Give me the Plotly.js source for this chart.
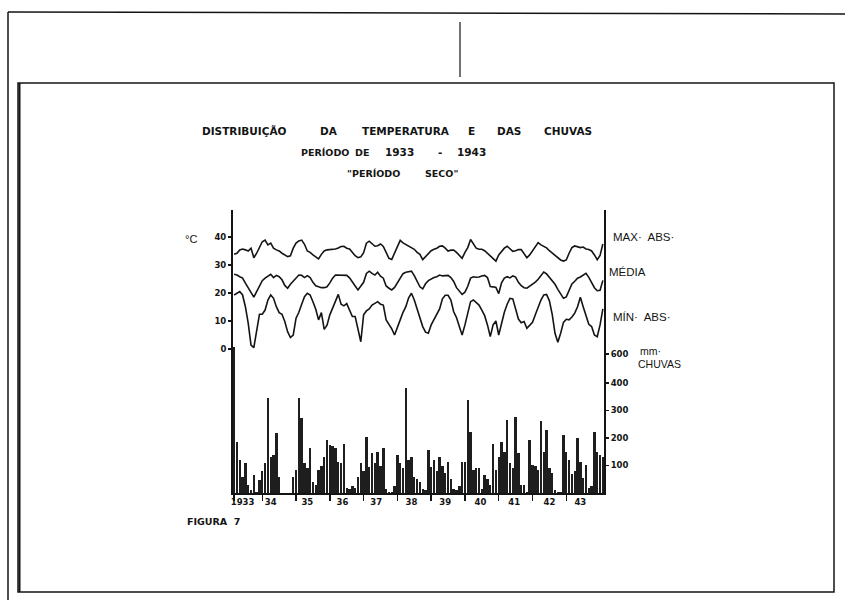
<!DOCTYPE html>
<html>
<head>
<meta charset="utf-8">
<script src="https://cdn.plot.ly/plotly-3.0.1.min.js"></script>
<style>html,body{margin:0;padding:0;background:#fff;}#chart{width:845px;height:600px;}</style>
</head>
<body>
<div id="chart"></div>
<script>
// Monthly series, January 1933 .. December 1943 (132 months)
const maxAbs = [
33.8,34.2,35.4,35.7,35.4,35.0,36.0,32.6,34.2,36.6,38.3,38.9,
37.2,37.8,36.0,35.4,35.0,34.2,33.6,33.0,33.3,36.0,37.8,38.6,
38.9,37.4,35.0,34.5,33.6,33.0,32.2,33.8,35.0,35.4,35.5,35.7,
35.7,36.1,36.6,36.7,36.0,35.7,34.4,33.3,32.6,32.9,34.4,37.8,
38.5,37.5,36.7,36.9,37.5,36.6,34.4,32.4,32.0,34.2,36.9,38.8,
37.9,37.3,36.8,36.3,35.6,34.5,33.8,31.9,32.9,34.2,35.1,35.6,
36.0,36.7,36.8,36.0,35.0,35.3,35.3,34.5,33.3,32.4,34.5,36.2,
39.1,37.5,36.0,35.6,35.6,35.1,34.2,33.3,32.4,31.4,33.6,35.0,
36.0,36.7,35.7,34.9,35.1,35.5,35.5,34.2,32.6,33.6,35.1,36.8,
38.0,37.2,36.6,36.1,35.1,34.3,33.2,32.4,31.8,31.4,31.8,34.2,
36.2,36.8,36.4,36.2,36.4,35.7,35.5,35.0,33.6,31.9,33.4,37.5
];
const media = [
26.7,26.4,25.8,25.3,23.5,21.9,19.9,18.5,20.5,22.5,24.4,25.3,
26.0,26.7,25.5,26.3,25.8,24.7,22.7,21.7,23.1,24.2,25.5,26.4,
26.3,25.5,26.2,25.5,23.8,22.6,22.2,21.9,21.9,22.2,23.6,25.3,
26.4,26.4,26.2,26.2,26.3,25.4,23.8,22.5,21.1,22.3,23.8,27.0,
27.8,27.0,26.4,27.4,26.0,25.3,22.5,21.7,21.1,22.0,23.7,25.5,
26.9,27.4,27.6,27.8,26.2,24.1,22.2,21.5,23.3,24.4,25.1,25.5,
25.8,26.4,26.1,26.2,26.3,25.5,24.1,21.9,20.5,19.5,20.3,22.4,
25.3,25.8,25.6,25.7,26.1,26.3,25.5,22.3,22.2,22.0,19.8,23.6,
25.3,25.8,25.4,26.1,25.7,23.8,22.6,21.9,21.7,22.4,23.1,23.9,
24.9,26.1,27.5,26.8,25.7,24.5,23.1,21.3,19.7,18.1,18.6,21.1,
23.2,24.2,25.3,25.7,26.4,27.0,25.6,23.6,21.9,20.8,21.0,24.5
];
const minAbs = [
19.3,19.9,20.5,19.3,15.1,9.2,1.4,0.5,6.2,12.4,12.4,13.9,
17.5,19.3,18.1,15.1,13.0,12.4,9.8,6.2,4.1,5.0,11.0,13.1,
16.0,18.7,19.9,19.3,16.9,14.2,10.4,13.0,7.0,8.5,12.2,14.5,
16.7,19.5,16.0,15.4,16.2,13.9,11.6,11.6,6.8,2.6,12.2,13.6,
14.3,15.7,16.3,16.9,16.0,15.7,10.4,8.8,7.2,5.0,7.4,10.4,
13.1,15.1,18.3,19.9,17.5,14.5,11.6,8.0,6.0,5.6,8.6,10.4,
12.6,14.3,17.9,19.2,19.2,17.5,13.3,11.2,8.0,5.0,8.6,13.1,
16.9,17.5,16.7,15.7,13.9,11.9,8.6,4.4,8.6,10.0,5.0,9.2,
13.1,16.0,18.1,17.9,13.9,10.7,9.4,9.8,7.4,8.6,9.5,12.2,
15.1,17.5,19.3,19.5,17.2,12.4,5.6,2.4,5.6,9.5,10.6,10.4,
11.4,12.8,15.1,18.5,15.1,11.6,8.8,8.0,5.0,4.4,8.6,14.3
];
const chuvas = [
530,187,120,60,108,30,10,65,5,47,80,108,
344,132,140,217,60,0,0,0,0,60,84,344,
272,110,90,162,40,30,84,100,132,193,175,170,
162,114,108,180,20,15,25,20,60,108,80,205,
96,144,110,150,100,162,15,5,5,25,140,110,
90,381,120,132,60,50,40,15,10,156,96,120,
80,132,100,72,114,50,15,10,25,114,114,338,
223,84,90,90,15,65,50,30,180,84,130,187,
150,265,110,90,278,144,30,30,5,193,102,100,
84,260,150,229,90,72,10,5,5,211,150,120,
70,80,199,114,53,102,20,25,223,150,140,130
];
const yearLabels = ['1933','34','35','36','37','38','39','40','41','42','43'];
const yearLabelPos = [3,13,26,38.5,50.5,63,75,87.5,99.5,112,123];
const yearTickPos = [0,10,22,34,46,58,70,82,94,106,118];
const tempTicks = [0,10,20,30,40];
const rainTicks = [100,200,300,400,505];
const rainTickText = ['100','200','300','400','600'];

const months = maxAbs.map((_, i) => i);
const W = 845, H = 600;
const X = px => px / W;
const Y = py => 1 - py / H;
const INK = '#141414';
const lineStyle = {color: INK, width: 1.6};

const traces = [
  {type:'bar', x: months, y: chuvas, yaxis:'y2', width:0.85, marker:{color:'#1e1e1e', line:{width:0}}, hoverinfo:'skip'},
  {type:'scatter', mode:'lines', x: months, y: maxAbs, line: lineStyle, yaxis:'y'},
  {type:'scatter', mode:'lines', x: months, y: media, line: lineStyle, yaxis:'y'},
  {type:'scatter', mode:'lines', x: months, y: minAbs, line: lineStyle, yaxis:'y'}
];

const tickFont = {family:'DejaVu Sans', size:8.5, color:INK, weight:'bold'};
function txt(text, x, y, size, opts) {
  return Object.assign({text: text, x: X(x), y: Y(y), xref:'paper', yref:'paper',
    xanchor:'left', yanchor:'middle', showarrow:false,
    font:{family:'Liberation Sans', size:size, color:INK}}, opts || {});
}
const tfont = {family:'DejaVu Sans', size:10.5, color:INK, weight:'bold'};
const tfont2 = {family:'DejaVu Sans', size:9.5, color:INK, weight:'bold'};
const annotations = [
  txt('DISTRIBUIÇÃO', 200, 131, 10.5, {font:tfont}),
  txt('DA', 318, 131, 10.5, {font:tfont}),
  txt('TEMPERATURA', 360, 131, 10.5, {font:tfont}),
  txt('E', 466, 131, 10.5, {font:tfont}),
  txt('DAS', 495, 131, 10.5, {font:tfont}),
  txt('CHUVAS', 542, 131, 10.5, {font:tfont}),
  txt('PERÍODO', 299, 152, 9.5, {font:tfont2}),
  txt('DE', 353, 152, 9.5, {font:tfont2}),
  txt('1933', 383, 152, 10.5, {font:tfont}),
  txt('-', 436, 152, 10.5, {font:tfont}),
  txt('1943', 455, 152, 10.5, {font:tfont}),
  txt('"PERÍODO', 345, 173, 9.5, {font:tfont2}),
  txt('SECO"', 423, 173, 9.5, {font:tfont2}),
  txt('°C', 183, 239, 11),
  txt('MAX·  ABS·', 611, 237, 11.5),
  txt('MÉDIA', 607, 272, 11.5),
  txt('MÍN·  ABS·', 611, 317, 11.5),
  txt('mm·', 638, 351, 10.5),
  txt('CHUVAS', 636, 364, 10.5),
  txt('FIGURA  7', 185, 521, 10, {font:{family:'DejaVu Sans', size:9.5, color:INK, weight:'bold'}})
];

const shapes = [
  {type:'line', xref:'paper', yref:'paper', x0:X(8), y0:Y(12), x1:X(845), y1:Y(14), line:{color:INK, width:1.5}},
  {type:'line', xref:'paper', yref:'paper', x0:X(8), y0:Y(12), x1:X(8), y1:Y(600), line:{color:INK, width:1.5}},
  {type:'line', xref:'paper', yref:'paper', x0:X(460), y0:Y(22), x1:X(460), y1:Y(77), line:{color:INK, width:1.2}},
  {type:'rect', xref:'paper', yref:'paper', x0:X(18), y0:Y(83), x1:X(834), y1:Y(592), line:{color:INK, width:1.5}},
  {type:'line', xref:'paper', yref:'paper', x0:X(19.5), y0:Y(83), x1:X(19.5), y1:Y(592), line:{color:INK, width:2}}
];

const layout = {
  width: W, height: H,
  margin:{l:0, r:0, t:0, b:0},
  paper_bgcolor:'#fff', plot_bgcolor:'rgba(0,0,0,0)',
  showlegend:false,
  bargap:0,
  xaxis:{domain:[X(233), X(604)], range:[-0.4, 131.4], showline:true, linewidth:2, linecolor:INK,
    tickmode:'array', tickvals:yearLabelPos, ticktext:yearLabels, ticks:'', tickfont:tickFont,
    showgrid:false, zeroline:false, fixedrange:true,
    minor:{tickmode:'array', tickvals:yearTickPos, ticks:'outside', ticklen:6, tickwidth:1.5, tickcolor:INK, showgrid:false}},
  yaxis:{domain:[Y(493), Y(210)], range:[-51.43, 49.64], showline:true, linewidth:2, linecolor:INK,
    tickmode:'array', tickvals:tempTicks, ticks:'outside', ticklen:3, tickwidth:1.5, tickcolor:INK,
    tickfont:tickFont, showgrid:false, zeroline:false, fixedrange:true},
  yaxis2:{domain:[Y(493), Y(210)], overlaying:'y', side:'right', anchor:'x', range:[0, 1029],
    showline:true, linewidth:2, linecolor:INK,
    tickmode:'array', tickvals:rainTicks, ticktext:rainTickText, ticks:'outside', ticklen:3, tickwidth:1.5, tickcolor:INK,
    tickfont:tickFont, showgrid:false, zeroline:false, fixedrange:true},
  annotations: annotations,
  shapes: shapes
};

Plotly.newPlot('chart', traces, layout, {staticPlot:true, displayModeBar:false});
</script>
</body>
</html>
